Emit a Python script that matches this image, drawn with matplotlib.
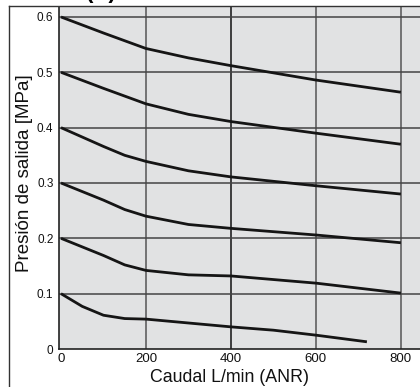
import matplotlib
matplotlib.use("Agg")
import matplotlib.pyplot as plt
from matplotlib.lines import Line2D

plt.rcParams['font.family'] = ['Liberation Sans', 'DejaVu Sans']

# Flow (L/min ANR) and outlet pressure (MPa) for each set pressure
flow_06 = [0, 100, 200, 300, 350, 400, 600, 800]
pres_06 = [0.600, 0.571, 0.543, 0.526, 0.519, 0.512, 0.486, 0.464]
flow_05 = [0, 100, 200, 300, 400, 600, 800]
pres_05 = [0.500, 0.471, 0.443, 0.424, 0.411, 0.390, 0.370]
flow_04 = [0, 100, 150, 200, 300, 400, 600, 800]
pres_04 = [0.400, 0.366, 0.350, 0.339, 0.322, 0.311, 0.295, 0.280]
flow_03 = [0, 100, 150, 200, 300, 400, 600, 800]
pres_03 = [0.300, 0.269, 0.252, 0.240, 0.225, 0.218, 0.206, 0.192]
flow_02 = [0, 100, 150, 200, 300, 400, 600, 800]
pres_02 = [0.200, 0.169, 0.152, 0.142, 0.134, 0.132, 0.119, 0.101]
flow_01 = [0, 50, 100, 150, 200, 400, 500, 600, 720]
pres_01 = [0.100, 0.077, 0.061, 0.055, 0.054, 0.040, 0.034, 0.025, 0.013]

x_ticks = [0, 200, 400, 600, 800]
x_tick_labels = ["0", "200", "400", "600", "800"]
y_ticks = [0, 0.1, 0.2, 0.3, 0.4, 0.5, 0.6]
y_tick_labels = ["0", "0.1", "0.2", "0.3", "0.4", "0.5", "0.6"]

fig = plt.figure(figsize=(4.2, 3.87), dpi=100)
ax = fig.add_axes([59/420, 38/387, 1 - 59/420, (349 - 7)/387])
ax.set_facecolor('#e1e2e3')
ax.set_xlim(-4.7, 845)
ax.set_ylim(0, 0.618)

for xv in x_ticks[1:]:
    ax.axvline(xv, color='#111111' if xv == 400 else '#555555', lw=1.1, zorder=1)
for yv in y_ticks[1:]:
    ax.axhline(yv, color='#444444', lw=1.1, zorder=1)

for fx, py in [(flow_06, pres_06), (flow_05, pres_05), (flow_04, pres_04),
               (flow_03, pres_03), (flow_02, pres_02), (flow_01, pres_01)]:
    ax.plot(fx, py, color='#151515', lw=2.0, solid_capstyle='butt',
            solid_joinstyle='round', zorder=3)

ax.set_xticks(x_ticks)
ax.set_xticklabels(x_tick_labels, fontsize=9.5)
ax.set_yticks(y_ticks)
ax.set_yticklabels(y_tick_labels, fontsize=8.5)
ax.tick_params(axis='both', length=0, colors='#111111')
ax.tick_params(axis='x', pad=3)
ax.tick_params(axis='y', pad=4)

for s in ['left', 'bottom']:
    ax.spines[s].set_color('#222222')
    ax.spines[s].set_linewidth(1.2)
for s in ['top', 'right']:
    ax.spines[s].set_visible(False)

ax.set_xlabel("Caudal L/min (ANR)", fontsize=12.8, color='#111111')
ax.xaxis.set_label_coords((230 - 59)/361, -(369 - 349)/342, transform=ax.transAxes)
ax.set_ylabel("Presión de salida [MPa]", fontsize=13.5, color='#111111')
ax.yaxis.set_label_coords(-(59 - 33)/361, (349 - 173)/342, transform=ax.transAxes)

# outer frame
fig.add_artist(Line2D([9/420, 9/420], [0, 1 - 6/387], color='#333333', lw=1.0))
fig.add_artist(Line2D([9/420, 1], [1 - 6/387, 1 - 6/387], color='#333333', lw=1.0))
fig.text(101/420, 1 + 2/387, "(A)", ha='center', va='baseline', fontsize=16, fontweight='bold')

fig.savefig("out.png", dpi=100)
